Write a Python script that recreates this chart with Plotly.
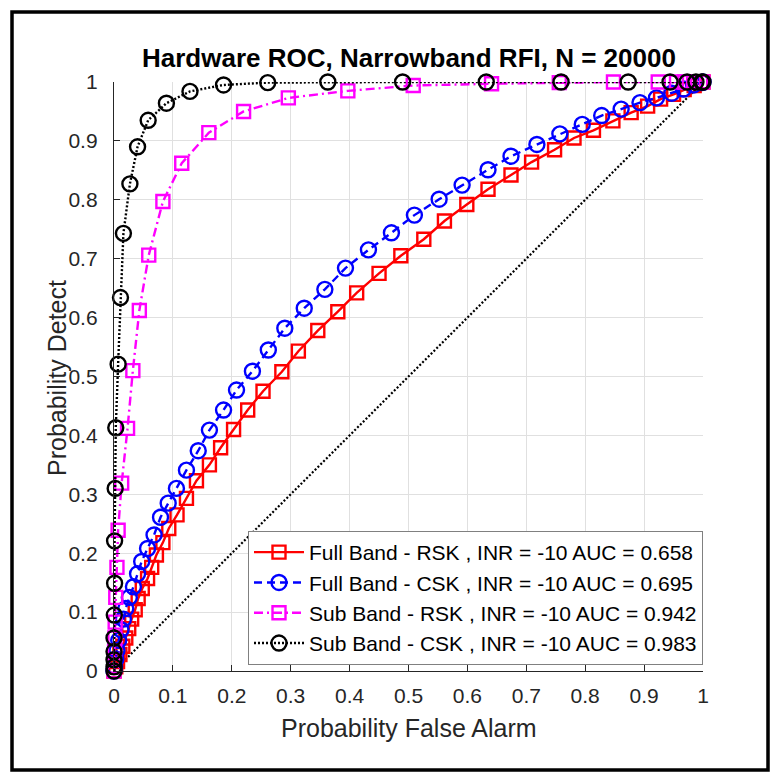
import plotly.graph_objects as go

# ROC curves: probability of false alarm (x) vs probability of detection (y)
pfa_full_rsk = [0, 0.003, 0.006, 0.010, 0.015, 0.020, 0.025, 0.030, 0.036, 0.041,
                0.048, 0.057, 0.064, 0.072, 0.083, 0.093, 0.107, 0.123, 0.140, 0.162,
                0.181, 0.203, 0.227, 0.253, 0.285, 0.313, 0.346, 0.380, 0.412, 0.450,
                0.487, 0.526, 0.561, 0.599, 0.635, 0.674, 0.709, 0.748, 0.781, 0.814,
                0.847, 0.878, 0.906, 0.928, 0.950, 0.968, 0.985, 1.0]
pd_full_rsk = [0, 0.007, 0.016, 0.028, 0.042, 0.056, 0.072, 0.088, 0.104, 0.123,
               0.140, 0.157, 0.176, 0.197, 0.218, 0.242, 0.265, 0.293, 0.323, 0.350,
               0.379, 0.410, 0.443, 0.475, 0.508, 0.543, 0.578, 0.610, 0.642, 0.675,
               0.705, 0.733, 0.764, 0.792, 0.818, 0.842, 0.864, 0.885, 0.905, 0.918,
               0.934, 0.948, 0.959, 0.971, 0.979, 0.987, 0.994, 1.0]

pfa_full_csk = [0, 0.001, 0.003, 0.005, 0.008, 0.012, 0.016, 0.020, 0.026, 0.033,
                0.040, 0.047, 0.057, 0.068, 0.079, 0.092, 0.106, 0.123, 0.143, 0.162,
                0.186, 0.208, 0.235, 0.262, 0.290, 0.323, 0.358, 0.393, 0.432, 0.471,
                0.510, 0.552, 0.591, 0.635, 0.674, 0.718, 0.757, 0.795, 0.828, 0.861,
                0.893, 0.921, 0.947, 0.967, 0.984, 0.998, 1.0]
pd_full_csk = [0, 0.008, 0.020, 0.035, 0.052, 0.070, 0.088, 0.106, 0.125, 0.143,
               0.165, 0.186, 0.208, 0.231, 0.261, 0.285, 0.310, 0.341, 0.374, 0.409,
               0.443, 0.477, 0.509, 0.545, 0.582, 0.616, 0.648, 0.684, 0.715, 0.744,
               0.774, 0.801, 0.825, 0.851, 0.874, 0.894, 0.912, 0.928, 0.943, 0.954,
               0.965, 0.973, 0.981, 0.988, 0.995, 0.999, 1.0]

pfa_sub_rsk = [0, 0.0003, 0.0005, 0.001, 0.0015, 0.002, 0.003, 0.005, 0.007, 0.013,
               0.023, 0.032, 0.043, 0.059, 0.083, 0.115, 0.161, 0.220, 0.296, 0.397,
               0.508, 0.641, 0.756, 0.848, 0.924, 0.955, 0.969, 0.984, 0.996, 1.0]
pd_sub_rsk = [0, 0.008, 0.018, 0.033, 0.056, 0.083, 0.125, 0.176, 0.239, 0.319,
              0.412, 0.510, 0.612, 0.706, 0.797, 0.862, 0.914, 0.950, 0.973, 0.985,
              0.994, 0.997, 0.999, 1.0, 1.0, 1.0, 1.0, 1.0, 1.0, 1.0]

pfa_sub_csk = [0, 0, 0, 0, 0, 0.0005, 0.001, 0.001, 0.002, 0.003,
               0.007, 0.011, 0.016, 0.027, 0.040, 0.058, 0.089, 0.129, 0.186, 0.261,
               0.363, 0.490, 0.632, 0.759, 0.873, 0.944, 0.973, 0.988, 0.998, 1.0]
pd_sub_csk = [0, 0.007, 0.019, 0.033, 0.056, 0.095, 0.149, 0.221, 0.310, 0.413,
              0.521, 0.634, 0.743, 0.827, 0.890, 0.935, 0.964, 0.984, 0.995, 0.999,
              1.0, 1.0, 1.0, 1.0, 1.0, 1.0, 1.0, 1.0, 1.0, 1.0]

chance_line = [0, 1]

series_names = [
    "Full Band - RSK , INR = -10 AUC = 0.658",
    "Full Band - CSK , INR = -10 AUC = 0.695",
    "Sub Band - RSK , INR = -10 AUC = 0.942",
    "Sub Band - CSK , INR = -10 AUC = 0.983",
]
tick_vals = [0, 0.1, 0.2, 0.3, 0.4, 0.5, 0.6, 0.7, 0.8, 0.9, 1]
tick_text = ["0", "0.1", "0.2", "0.3", "0.4", "0.5", "0.6", "0.7", "0.8", "0.9", "1"]

FONT = "Liberation Sans, Arial, Helvetica, sans-serif"
AX = "#262626"

# plot-area geometry in pixels
W, H = 779, 778
L, R, T, B = 114, 76, 82, 107
PW, PH = W - L - R, H - T - B


def px_x(px):
    return (px - L) / PW


def px_y(py):
    return (H - B - py) / PH


fig = go.Figure()

fig.add_trace(go.Scatter(
    x=chance_line, y=chance_line, mode="lines", showlegend=False,
    line=dict(color="black", width=2.2, dash="2px,2px"), hoverinfo="skip"))

styles = [
    (pfa_full_rsk, pd_full_rsk, "#ff0000", "solid", "square-open", 13),
    (pfa_full_csk, pd_full_csk, "#0000ff", "8px,5px", "circle-open", 15),
    (pfa_sub_rsk, pd_sub_rsk, "#ff00ff", "9px,4px,2px,4px", "square-open", 13),
    (pfa_sub_csk, pd_sub_csk, "#000000", "2px,2px", "circle-open", 15),
]
for (xs, ys, col, dash, sym, size), name in zip(styles, series_names):
    fig.add_trace(go.Scatter(
        x=xs, y=ys, mode="lines+markers", name=name, cliponaxis=False,
        line=dict(color=col, width=2.4, dash=dash),
        marker=dict(symbol=sym, size=size, color=col, line=dict(width=2.4, color=col))))

axis_common = dict(
    range=[0, 1], tickvals=tick_vals, ticktext=tick_text, ticks="inside", ticklen=6,
    tickcolor=AX, tickwidth=1, showline=True, linecolor=AX, linewidth=1.3,
    showgrid=True, gridcolor="#e0e0e0", gridwidth=1, zeroline=False,
    tickfont=dict(family=FONT, size=21, color=AX), automargin=False, mirror=False,
)

fig.update_layout(
    width=W, height=H,
    margin=dict(l=L, r=R, t=T, b=B),
    paper_bgcolor="white", plot_bgcolor="white",
    xaxis=dict(**axis_common, ticklabelstandoff=6),
    yaxis=dict(**axis_common, ticklabelstandoff=11),
    showlegend=True,
    legend=dict(
        x=1.0, y=px_y(665), xanchor="right", yanchor="bottom",
        bgcolor="white", bordercolor="#808080", borderwidth=1,
        font=dict(family=FONT, size=21, color="black"),
        itemwidth=50, tracegroupgap=0,
    ),
    annotations=[
        dict(text="<b>Hardware ROC, Narrowband RFI, N = 20000</b>", xref="paper", yref="paper",
             x=0.5, y=px_y(58), xanchor="center", yanchor="middle", showarrow=False,
             font=dict(family=FONT, size=26, color="black")),
        dict(text="Probability False Alarm", xref="paper", yref="paper",
             x=0.5, y=px_y(728), xanchor="center", yanchor="middle", showarrow=False,
             font=dict(family=FONT, size=25, color=AX)),
        dict(text="Probability Detect", xref="paper", yref="paper", textangle=-90,
             x=px_x(57), y=px_y(378), xanchor="center", yanchor="middle", showarrow=False,
             font=dict(family=FONT, size=25, color=AX)),
    ],
    shapes=[
        dict(type="rect", xref="paper", yref="paper",
             x0=px_x(12), x1=px_x(768), y0=px_y(770), y1=px_y(12),
             line=dict(color="black", width=3.5), fillcolor="rgba(0,0,0,0)", layer="above"),
    ],
)

fig.write_html("out.html")
